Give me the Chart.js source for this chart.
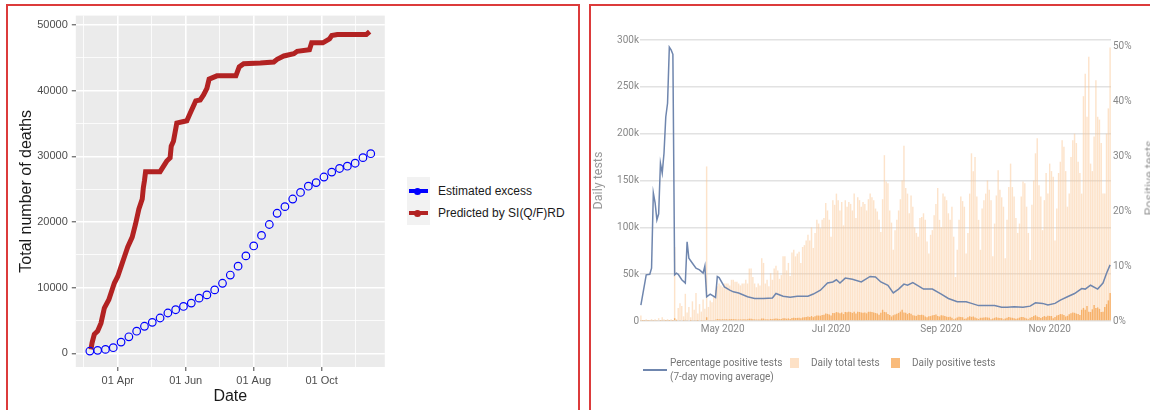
<!DOCTYPE html>
<html>
<head>
<meta charset="utf-8">
<script src="https://cdn.jsdelivr.net/npm/chart.js@4.4.1/dist/chart.umd.min.js"></script>
<style>
  html, body { margin: 0; padding: 0; width: 1150px; height: 410px; overflow: hidden; background: #fff; }
  body { position: relative; font-family: "Liberation Sans", Arial, sans-serif; }
  .frame { position: absolute; border: 2px solid #dc3b3b; box-sizing: border-box; }
  canvas { position: absolute; }
  .lg { position: absolute; white-space: nowrap; }
  .key-bg { position: absolute; left: 407px; top: 177px; width: 23px; height: 48px; background: #f2f2f2; }
  .key-line { position: absolute; left: 409px; width: 19px; height: 4px; }
  .key-dot { position: absolute; left: 414px; width: 7px; height: 7px; border-radius: 50%; box-sizing: border-box; border: 2px solid; }
  .rt { font-family: Roboto, "Liberation Sans", sans-serif; font-size: 10px; color: #777; }
</style>
</head>
<body>
<div class="frame" style="left:6px; top:4px; width:574px; height:430px;"></div>
<div class="frame" style="left:589px; top:4px; width:600px; height:430px;"></div>

<canvas id="deaths" width="392" height="405" style="left:8px; top:5px;"></canvas>
<canvas id="tests" width="574" height="404" style="left:591px; top:6px;"></canvas>

<!-- left legend -->
<div class="key-bg"></div>
<div class="key-line" style="top:189px; background:#0000ff;"></div>
<div class="key-dot" style="top:187.5px; border-color:#0000ff; background:#0000ff;"></div>
<div class="key-line" style="top:211px; background:#b22222;"></div>
<div class="key-dot" style="top:209.5px; border-color:#b22222; background:#b22222;"></div>
<div class="lg" style="left:438px; top:184px; font-size:12px; color:#1a1a1a;">Estimated excess</div>
<div class="lg" style="left:438px; top:206px; font-size:12px; color:#1a1a1a;">Predicted by SI(Q/F)RD</div>

<!-- right legend -->
<div class="lg" style="left:643px; top:369px; width:24px; height:1.5px; background:#6f86ae;"></div>
<div class="lg rt" style="left:670px; top:356px; line-height:14px;">Percentage positive tests<br>(7-day moving average)</div>
<div class="lg" style="left:790px; top:358px; width:9px; height:10px; background:#fde1c6;"></div>
<div class="lg rt" style="left:811px; top:356px; line-height:14px;">Daily total tests</div>
<div class="lg" style="left:891px; top:358px; width:9px; height:10px; background:#f9bb7b;"></div>
<div class="lg rt" style="left:912px; top:356px; line-height:14px;">Daily positive tests</div>
<div class="lg" style="left:1149px; top:178px; transform:translate(-50%,-50%) rotate(-90deg); font-family:Roboto,'Liberation Sans',sans-serif; font-size:12.5px; color:#999;">Positive tests</div>

<script>
// ---------- left chart: total deaths (x = day of 2020, 0 = 1 Jan) ----------
const excessDays = [66, 73, 80, 87, 94, 101, 108, 115, 122, 129, 136, 143, 150, 157, 164, 171, 178, 185, 192,
  199, 206, 213, 220, 227, 234, 241, 248, 255, 262, 269, 276, 283, 290, 297, 304, 311, 318];
const excessDeaths = [350, 450, 600, 860, 1710, 2520, 3370, 4120, 4720, 5380, 6140, 6640, 7140, 7650, 8400,
  8900, 9660, 10670, 11920, 13280, 14840, 16350, 17960, 19620, 21330, 22340, 23500, 24500, 25450, 26000,
  26850, 27600, 28150, 28500, 28950, 29800, 30400];

const predictedDays = [67, 68, 70, 73, 76, 79, 83, 88, 91, 94, 97, 100, 104, 107, 110, 113, 114, 115, 116, 129,
  135, 138, 139, 141, 144, 153, 156, 161, 165, 168, 171, 173, 180, 197, 200, 204, 219, 231, 234, 240,
  249, 252, 263, 265, 275, 281, 283, 288, 314, 317];
const predictedDeaths = [600, 1600, 2900, 3400, 4600, 6900, 8150, 10700, 11700, 13200, 14700, 16200, 17700,
  19700, 22000, 23500, 25250, 26300, 27660, 27660, 29280, 29780, 31540, 32300, 35060, 35420, 36570, 38440,
  38590, 39340, 40340, 41760, 42260, 42260, 43620, 44110, 44220, 44370, 44780, 45280, 45620, 45990, 46230,
  47290, 47290, 47890, 48400, 48550, 48550, 49000];

const dateTickDays = [91, 152, 213, 274];
const dateTickLabels = ['01 Apr', '01 Jun', '01 Aug', '01 Oct'];
const dateMinorDays = [60.5, 121.5, 182.5, 243.5, 304.5];
const deathTicks = [0, 10000, 20000, 30000, 40000, 50000];
const deathMinor = [5000, 15000, 25000, 35000, 45000];

// ---------- right chart: daily tests (x = day index, 0 = 16 Mar 2020) ----------
const dailyTotalK = [
  6, 1, 1, 2, 1, 1, 2, 1, 2, 1,
  3, 1, 4, 2, 1, 2, 1, 2, 1, 79,
  2, 14, 19, 16, 5, 29, 9, 15, 4, 21,
  12, 30, 8, 18, 10, 23, 13, 165, 15, 22,
  20, 26, 33, 37, 40, 38, 36, 40, 40, 40,
  38, 44, 44, 42, 42, 40, 38, 40, 40, 44,
  40, 56, 56, 47, 40, 36, 40, 38, 67, 62,
  40, 44, 37, 51, 44, 56, 59, 54, 45, 49,
  69, 69, 54, 62, 48, 73, 76, 69, 72, 74,
  62, 79, 81, 86, 92, 86, 100, 78, 94, 108,
  104, 99, 108, 110, 126, 118, 108, 90, 129, 124,
  136, 129, 118, 127, 102, 129, 122, 127, 125, 118,
  136, 110, 132, 129, 122, 127, 125, 118, 130, 136,
  132, 129, 120, 117, 108, 95, 130, 177, 149, 147,
  118, 105, 76, 97, 108, 118, 130, 150, 187, 142,
  136, 115, 134, 122, 100, 94, 90, 110, 111, 115,
  108, 85, 72, 92, 97, 113, 125, 142, 108, 100,
  136, 133, 129, 115, 108, 122, 90, 47, 76, 108,
  133, 128, 122, 72, 94, 136, 179, 160, 175, 133,
  108, 76, 120, 129, 136, 150, 140, 129, 69, 104,
  134, 161, 140, 132, 122, 67, 108, 143, 168, 143,
  133, 110, 94, 104, 133, 149, 147, 122, 94, 65,
  124, 150, 179, 195, 145, 133, 97, 129, 158, 136,
  168, 160, 154, 86, 120, 158, 170, 193, 186, 160,
  122, 136, 175, 193, 200, 190, 170, 158, 136, 240,
  264, 218, 282, 168, 160, 197, 257, 218, 215, 190,
  136, 136, 200, 227, 292
];
const dailyPositiveK = [
  1, 0.3, 0.4, 0.5, 0.4, 0.5, 0.6, 0.5, 0.6, 0.5, 0.8, 0.4, 1, 0.6, 0.4, 0.6, 0.3, 0.6, 0.4, 3, 0.3,
  0.8, 1, 0.9, 0.4, 1.2, 0.5, 0.8, 0.3, 1, 0.6, 1.2, 0.4, 0.8, 0.5, 1, 0.6, 4, 0.7, 1, 1,
  1.2, 1.4, 2, 1.8, 1.6, 1.8, 1.7, 1.8, 1.6, 1.8, 2, 1.9, 1.8, 1.7, 1.6, 1.7, 1.6, 1.8, 1.6, 1.8,
  2.4, 2.4, 2, 1.7, 1.5, 1.7, 1.6, 2.8, 2.6, 1.7, 1.9, 1.6, 2.2, 1.9, 2.5, 2.7, 2.4, 2, 2.2, 3,
  3, 2.4, 2.8, 2.2, 3.3, 3.5, 3.2, 3.3, 3.4, 2.9, 3.8, 4, 4.4, 4.8, 4.4, 5.3, 4.1, 5, 6, 5.8,
  5.6, 6.5, 6.8, 8, 7.6, 7, 5.9, 8.6, 8.4, 9.5, 9, 8.3, 9.2, 7.4, 9.6, 9.3, 9.8, 9.5, 8.6, 10,
  8, 9.8, 9.6, 9, 8.8, 9.2, 8.2, 9.8, 10, 9.5, 9, 8.5, 8, 6.8, 8.8, 12, 9.7, 9.4, 7.4, 6.5,
  4.8, 6.2, 7, 7.8, 8.6, 10, 12, 9.2, 8.7, 7.4, 8.5, 7.8, 6.2, 5.8, 5.4, 6.6, 6.5, 6.8, 6.2, 4.8,
  4, 5, 5.2, 6, 6.4, 7, 5.4, 4.8, 6.2, 5.8, 5.4, 4.6, 4.2, 4.6, 3.4, 1.8, 2.7, 3.8, 4.6, 4.3,
  4, 2.3, 2.8, 3.9, 5, 4.4, 4.8, 3.7, 3, 2.1, 3.4, 3.6, 3.8, 4, 3.7, 3.4, 1.8, 2.7, 3.4, 4,
  3.5, 3.3, 3, 1.7, 2.7, 3.6, 4.4, 3.7, 3.4, 2.9, 2.5, 2.8, 3.6, 4.2, 4.2, 3.5, 2.7, 1.9, 3.6, 4.4,
  5.4, 6.2, 4.8, 4.4, 3.2, 4.3, 5.3, 4.6, 5.7, 5.4, 5.3, 3, 4.3, 5.8, 6.4, 7.4, 7.2, 6.3, 4.8, 5.5,
  7.3, 8.3, 9, 8.7, 7.9, 7.4, 6.5, 12, 14, 12, 16, 10, 9.6, 12.5, 17, 14, 14.5, 13, 9.5, 10, 15, 18, 22, 30
];
const pctDays = [0, 3, 5, 6, 7, 8, 9, 10, 11, 12, 13, 14, 15, 16, 17, 18, 19, 20, 21, 23, 25, 26, 27, 29, 31, 33,
  35, 36, 37, 39, 42, 43, 44, 47, 50, 52, 55, 60, 64, 69, 74, 76, 80, 84, 88, 94, 97, 101, 105, 108, 110, 112,
  115, 119, 124, 129, 132, 135, 139, 142, 145, 148, 150, 153, 157, 159, 164, 169, 173, 178, 183, 186, 190,
  194, 199, 203, 206, 210, 215, 219, 222, 226, 229, 233, 236, 240, 244, 248, 250, 253, 257, 260, 262, 264];
const pctPositive = [2.9, 8.4, 8.5, 9.6, 23.3, 21.5, 18.4, 19.5, 28.7, 26.9, 30.5, 37.1, 39.6, 49.8, 49.3, 48.5,
  8.4, 8.7, 8.5, 7.5, 6.9, 14.4, 11.4, 10.5, 9.6, 9.3, 8.7, 10.0, 4.4, 4.9, 4.3, 8.1, 7.9, 6.2, 5.6, 5.3, 5.1,
  4.4, 4.1, 4.1, 4.2, 5.0, 4.5, 4.3, 4.5, 4.5, 4.9, 5.6, 6.9, 7.1, 7.5, 6.9, 7.8, 7.6, 7.1, 8.1, 8.0, 7.1, 6.5,
  5.1, 5.8, 6.7, 6.5, 7.0, 6.2, 5.8, 5.8, 4.9, 4.1, 3.5, 3.5, 3.2, 2.8, 2.8, 2.8, 2.5, 2.5, 2.6, 2.5, 2.7,
  3.3, 3.2, 2.9, 3.2, 3.8, 4.4, 5.0, 5.9, 5.8, 6.5, 5.8, 6.9, 8.7, 10.2];

const monthTickIdx = [46, 107, 169, 230];
const monthTickLabels = ['May 2020', 'Jul 2020', 'Sep 2020', 'Nov 2020'];
const testTicks = [0, 50000, 100000, 150000, 200000, 250000, 300000];
const pctTicks = [0, 10, 20, 30, 40, 50];

Chart.defaults.font.family = '"Liberation Sans", Arial, sans-serif';
Chart.defaults.animation = false;

// gray ggplot panel behind the plot
const panelBg = {
  id: 'panelBg',
  beforeDraw(chart) {
    const { ctx, chartArea: a } = chart;
    ctx.save();
    ctx.fillStyle = '#ebebeb';
    ctx.fillRect(a.left, a.top, a.width, a.height);
    ctx.restore();
  }
};

const isMajorDate = (v) => dateTickDays.includes(v);
const isMajorDeath = (v) => deathTicks.includes(v);

new Chart(document.getElementById('deaths'), {
  type: 'scatter',
  data: {
    datasets: [
      {
        label: 'Predicted by SI(Q/F)RD',
        data: predictedDays.map((d, i) => ({ x: d, y: predictedDeaths[i] })),
        showLine: true,
        borderColor: '#b22222',
        borderWidth: 5,
        borderJoinStyle: 'miter',
        pointRadius: 0,
        order: 1
      },
      {
        label: 'Estimated excess',
        data: excessDays.map((d, i) => ({ x: d, y: excessDeaths[i] })),
        showLine: false,
        pointRadius: 3.8,
        pointBorderWidth: 1.2,
        borderColor: '#0000ff',
        backgroundColor: 'rgba(0,0,0,0)',
        order: 0
      }
    ]
  },
  options: {
    responsive: false,
    devicePixelRatio: 1,
    layout: { padding: { left: 0, top: 8, right: 15.2, bottom: 0 } },
    plugins: { legend: { display: false }, tooltip: { enabled: false } },
    scales: {
      x: {
        type: 'linear',
        min: 53.4,
        max: 330.6,
        afterBuildTicks: (axis) => {
          axis.ticks = dateMinorDays.concat(dateTickDays).sort((a, b) => a - b).map((v) => ({ value: v }));
        },
        afterFit: (s) => { s.height = 43; },
        ticks: {
          autoSkip: false,
          maxRotation: 0,
          padding: 3,
          color: '#4d4d4d',
          font: { size: 11 },
          callback: (v) => {
            const i = dateTickDays.indexOf(v);
            return i < 0 ? '' : dateTickLabels[i];
          }
        },
        grid: {
          color: '#ffffff',
          lineWidth: (c) => (c.tick && isMajorDate(c.tick.value) ? 1.6 : 0.8),
          tickLength: 4,
          tickColor: (c) => (c.tick && isMajorDate(c.tick.value) ? '#444' : 'rgba(0,0,0,0)'),
          tickWidth: 1
        },
        border: { display: false },
        title: { display: true, text: 'Date', color: '#1a1a1a', font: { size: 16 }, padding: { top: 0, bottom: 3.4 } }
      },
      y: {
        min: -2082,
        max: 51432,
        afterBuildTicks: (axis) => {
          axis.ticks = deathMinor.concat(deathTicks).sort((a, b) => a - b).map((v) => ({ value: v }));
        },
        afterFit: (s) => { s.width = 67.8; },
        ticks: {
          padding: 4,
          color: '#4d4d4d',
          font: { size: 11 },
          callback: (v) => (isMajorDeath(v) ? String(v) : '')
        },
        grid: {
          color: '#ffffff',
          lineWidth: (c) => (c.tick && isMajorDeath(c.tick.value) ? 1.6 : 0.8),
          tickLength: 4,
          tickColor: (c) => (c.tick && isMajorDeath(c.tick.value) ? '#444' : 'rgba(0,0,0,0)'),
          tickWidth: 1
        },
        border: { display: false },
        title: { display: true, text: 'Total number of deaths', color: '#1a1a1a', font: { size: 16 }, padding: { top: 9.4, bottom: 0 } }
      }
    }
  },
  plugins: [panelBg]
});

const rightFont = { family: 'Roboto, "Liberation Sans", sans-serif', size: 10 };

new Chart(document.getElementById('tests'), {
  type: 'bar',
  data: {
    datasets: [
      {
        type: 'line',
        label: 'Percentage positive tests (7-day moving average)',
        data: pctDays.map((d, i) => ({ x: d, y: pctPositive[i] })),
        yAxisID: 'y2',
        borderColor: '#6f86ae',
        borderWidth: 1.5,
        pointRadius: 0,
        tension: 0,
        order: 0
      },
      {
        label: 'Daily positive tests',
        data: dailyPositiveK.map((v, i) => ({ x: i, y: v * 1000 })),
        yAxisID: 'y',
        backgroundColor: 'rgba(246, 168, 88, 0.85)',
        grouped: false,
        barPercentage: 0.8,
        categoryPercentage: 1,
        order: 1
      },
      {
        label: 'Daily total tests',
        data: dailyTotalK.map((v, i) => ({ x: i, y: v * 1000 })),
        yAxisID: 'y',
        backgroundColor: 'rgba(252, 200, 150, 0.5)',
        grouped: false,
        barPercentage: 0.8,
        categoryPercentage: 1,
        order: 2
      }
    ]
  },
  options: {
    responsive: false,
    devicePixelRatio: 1,
    layout: { padding: { left: 0, top: 34, right: 0, bottom: 0 } },
    plugins: { legend: { display: false }, tooltip: { enabled: false } },
    scales: {
      x: {
        type: 'linear',
        offset: false,
        min: -0.5,
        max: 264.5,
        afterBuildTicks: (axis) => { axis.ticks = monthTickIdx.map((v) => ({ value: v })); },
        afterFit: (s) => { s.height = 89; },
        ticks: {
          autoSkip: false,
          maxRotation: 0,
          padding: 2.3,
          color: '#888',
          font: rightFont,
          callback: (v) => monthTickLabels[monthTickIdx.indexOf(v)]
        },
        grid: { display: false, drawTicks: false, offset: false },
        border: { display: false }
      },
      y: {
        position: 'left',
        min: 0,
        max: 300000,
        afterBuildTicks: (axis) => { axis.ticks = testTicks.map((v) => ({ value: v })); },
        afterFit: (s) => { s.width = 49; },
        ticks: {
          padding: 1,
          color: '#888',
          font: rightFont,
          callback: (v) => (v === 0 ? '0' : v / 1000 + 'k')
        },
        grid: { color: '#e2e2e2', lineWidth: 1.6, drawTicks: false },
        border: { display: false },
        title: { display: true, text: 'Daily tests', color: '#999', font: { family: rightFont.family, size: 12.5 }, padding: { top: 0, bottom: 0 } }
      },
      y2: {
        position: 'right',
        min: 0,
        max: 51.1,
        afterBuildTicks: (axis) => { axis.ticks = pctTicks.map((v) => ({ value: v })); },
        afterFit: (s) => { s.width = 54; },
        ticks: {
          padding: 2,
          color: '#888',
          font: rightFont,
          callback: (v) => v + '%'
        },
        grid: { drawOnChartArea: false, drawTicks: false },
        border: { display: false }
      }
    }
  }
});
</script>
</body>
</html>
